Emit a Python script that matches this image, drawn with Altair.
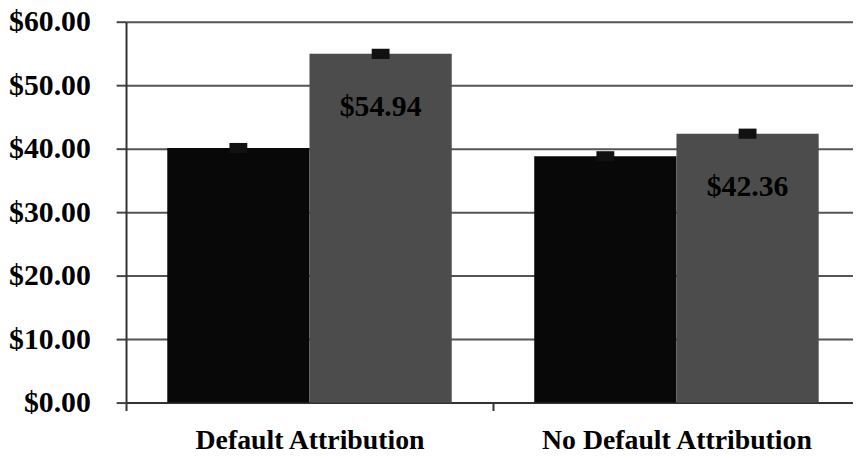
import altair as alt
import pandas as pd

groups = ["Default Attribution", "No Default Attribution"]
series = ["Series 1", "Series 2"]
values_s1 = [40.1, 38.8]
values_s2 = [54.94, 42.36]
errors_s1 = [0.8, 0.8]
errors_s2 = [0.8, 0.8]

rows = []
for i, g in enumerate(groups):
    rows.append({"group": g, "series": series[0], "value": values_s1[i], "err": errors_s1[i], "label": ""})
    rows.append({"group": g, "series": series[1], "value": values_s2[i], "err": errors_s2[i],
                 "label": f"${values_s2[i]:.2f}"})
df = pd.DataFrame(rows)
df["lo"] = df["value"] - df["err"]
df["hi"] = df["value"] + df["err"]

FONT = "Liberation Serif"

x = alt.X("group:N", sort=groups, title=None,
          scale=alt.Scale(paddingInner=0, paddingOuter=0, range=[0, 740]),
          axis=alt.Axis(labelAngle=0, tickBand="extent", labelFont=FONT, labelFontWeight="bold",
                        labelFontSize=28, labelColor="#000", tickSize=8, tickWidth=2,
                        tickColor="#333", domainColor="#333", domainWidth=2, labelPadding=16,
                        labelLimit=0))
xo = alt.XOffset("series:N", sort=series,
                 scale=alt.Scale(paddingInner=0, paddingOuter=0.29))

base = alt.Chart(df).encode(x=x, xOffset=xo)

bars = base.mark_bar().encode(
    y=alt.Y("value:Q", title=None, scale=alt.Scale(domain=[0, 60], nice=False),
            axis=alt.Axis(values=[0, 10, 20, 30, 40, 50, 60], format="$.2f", labelFont=FONT,
                          labelFontWeight="bold", labelFontSize=30, labelColor="#000",
                          tickSize=10, tickWidth=2, tickColor="#444", domainColor="#333",
                          domainWidth=2, grid=True, gridColor="#555", gridWidth=2,
                          labelPadding=26)),
    color=alt.Color("series:N", sort=series, legend=None,
                    scale=alt.Scale(domain=series, range=["#080808", "#4c4c4c"])),
)

errs = base.mark_bar(width=18, color="#111").encode(y="lo:Q", y2="hi:Q")

labels = base.transform_filter(alt.datum.label != "").mark_text(
    font=FONT, fontWeight="bold", fontSize=30, color="#000", baseline="middle", dy=54
).encode(y="value:Q", text="label:N")

chart = alt.layer(bars, errs, labels).properties(
    width=733, height=384, background="#ffffff",
    autosize=alt.AutoSizeParams(type="none"),
    padding={"left": 119, "top": 12, "right": 0, "bottom": 46},
).configure_view(stroke=None)

chart.save("out.html", embed_options={"renderer": "svg", "actions": False})
